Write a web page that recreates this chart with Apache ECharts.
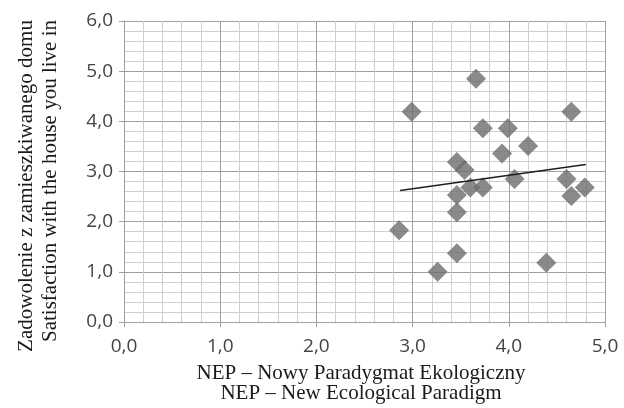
<!DOCTYPE html>
<html>
<head>
<meta charset="utf-8">
<script src="https://cdn.jsdelivr.net/npm/echarts@6/dist/echarts.min.js"></script>
<style>html,body{margin:0;padding:0;background:#fff}#c{width:624px;height:408px}</style>
</head>
<body>
<div id="c"></div>
<script>
// NEP score (x) and satisfaction with the house (y)
var nepX = [2.99, 3.66, 4.65, 3.73, 3.99, 4.20, 3.93, 3.46, 3.54, 4.06, 4.60, 3.60, 3.73, 4.79, 4.65, 3.46, 3.46, 2.86, 3.46, 3.26, 4.39];
var satY = [4.19, 4.85, 4.19, 3.86, 3.86, 3.51, 3.36, 3.19, 3.03, 2.85, 2.85, 2.68, 2.68, 2.68, 2.51, 2.53, 2.19, 1.83, 1.37, 1.00, 1.18];
// linear trend line endpoints
var trendX = [2.87, 4.80];
var trendY = [2.62, 3.14];
var xTitle = ['NEP \u2013 Nowy Paradygmat Ekologiczny', 'NEP \u2013 New Ecological Paradigm'];
var yTitle = ['Zadowolenie z zamieszkiwanego domu', 'Satisfaction with the house you live in'];

var points = nepX.map(function (x, i) { return [x, satY[i]]; });
var trend = trendX.map(function (x, i) { return [x, trendY[i]]; });
function fmt(v) { return v.toFixed(1).replace('.', ','); }

var chart = echarts.init(document.getElementById('c'));
var axisCommon = {
  type: 'value',
  interval: 1,
  axisLine: { show: true, lineStyle: { color: '#a0a0a0', width: 1 } },
  axisTick: { show: true, inside: false, length: 5, lineStyle: { color: '#a0a0a0' } },
  splitLine: { show: true, lineStyle: { color: '#a0a0a0', width: 1 } },
  minorTick: { show: false, splitNumber: 5 },
  minorSplitLine: { show: true, lineStyle: { color: '#cfcfcf', width: 1 } },
  axisLabel: { formatter: fmt, color: '#444444', fontFamily: 'Open Sans', fontSize: 19 }
};
chart.setOption({
  animation: false,
  grid: { left: 124, right: 19, top: 21, bottom: 86 },
  xAxis: Object.assign({}, axisCommon, { min: 0, max: 5,
    axisLabel: Object.assign({}, axisCommon.axisLabel, { margin: 15 }) }),
  yAxis: Object.assign({}, axisCommon, { min: 0, max: 6,
    axisLabel: Object.assign({}, axisCommon.axisLabel, { margin: 11 }) }),
  series: [
    { type: 'scatter', data: points, symbol: 'diamond', symbolSize: 20,
      itemStyle: { color: '#6d6d6d' }, z: 3 },
    { type: 'line', data: trend, symbol: 'none', lineStyle: { color: '#1e1e1e', width: 1.5 }, z: 4 }
  ],
  graphic: [
    { type: 'text', x: 361, y: 373, style: { text: xTitle[0], font: '21px "Liberation Serif"', fill: '#1a1a1a', align: 'center', verticalAlign: 'middle' } },
    { type: 'text', x: 361, y: 393, style: { text: xTitle[1], font: '21px "Liberation Serif"', fill: '#1a1a1a', align: 'center', verticalAlign: 'middle' } },
    { type: 'text', x: 26, y: 186, rotation: Math.PI / 2, style: { text: yTitle[0], font: '21px "Liberation Serif"', fill: '#1a1a1a', align: 'center', verticalAlign: 'middle' } },
    { type: 'text', x: 50, y: 181, rotation: Math.PI / 2, style: { text: yTitle[1], font: '21px "Liberation Serif"', fill: '#1a1a1a', align: 'center', verticalAlign: 'middle' } }
  ]
});
</script>
</body>
</html>
